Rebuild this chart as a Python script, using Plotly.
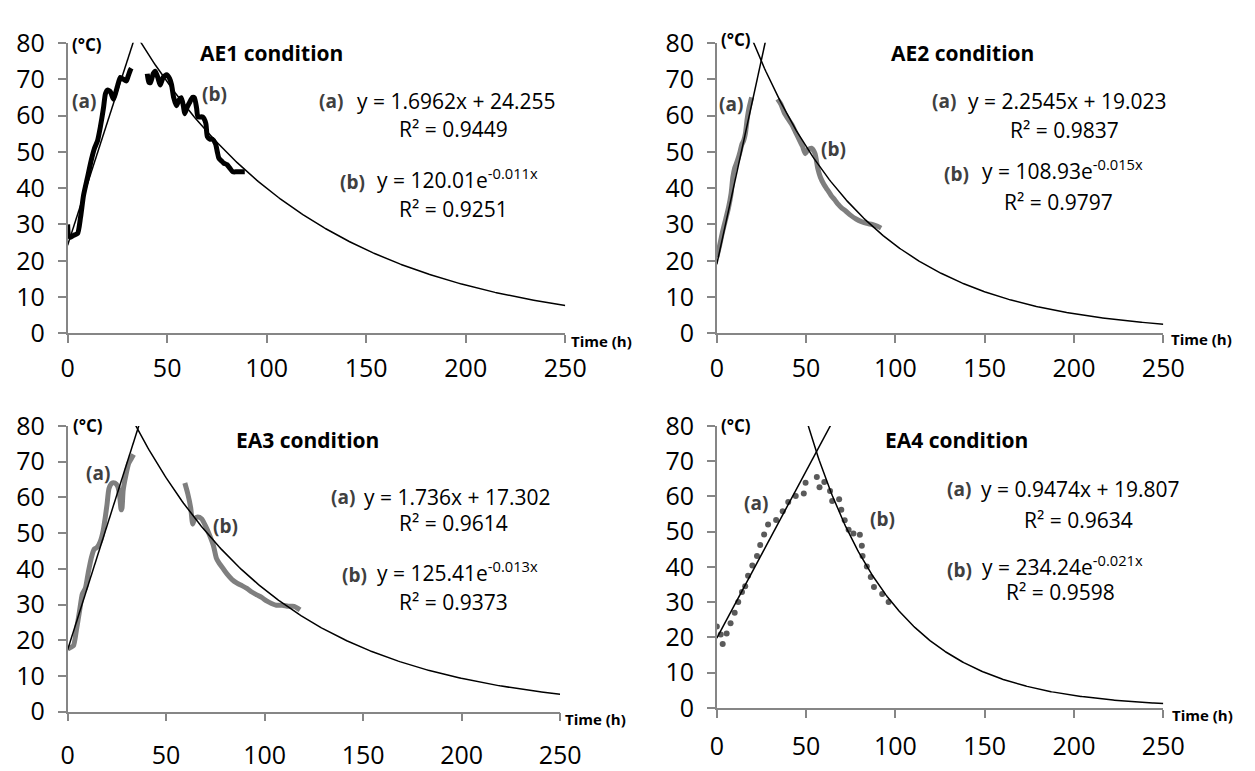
import numpy as np
import plotly.graph_objects as go

W, H = 1255, 771
FONT = "Open Sans"

# ---------------- data ----------------
# AE1 condition (black line)
ae1_a_x = [0, 0.5, 1.5, 3, 5, 6.5, 8, 10, 12, 13.5, 15, 16.5, 18, 19, 20, 21.5, 23, 24, 25, 26.5, 28, 29.5, 30.5, 31.5, 32]
ae1_a_y = [30, 27, 26.5, 27, 27.5, 32, 38, 43, 48, 51, 53, 57, 62, 66, 67, 66.5, 64.5, 66, 68, 70.5, 70, 69.5, 71, 72.5, 73]
ae1_b_x = [40, 40.8, 41.6, 43, 44, 45.3, 46.5, 48, 49.8, 51.2, 52.2, 53.3, 54.7, 56, 57.1, 58.2, 58.8, 60, 61.2,
           62.8, 63.7, 64.8, 65.5, 67.8, 69.4, 70.2, 71.5, 72.7, 74.3, 75.2, 76, 77.5, 78.4, 80, 81.5, 83, 85, 89]
ae1_b_y = [71.5, 69.2, 69, 71.5, 72.2, 70.5, 68.4, 70.5, 71.2, 70.2, 68.5, 64.9, 62.7, 64.3, 64.9, 62.5, 60.5, 62.2, 63.5,
           65, 64.9, 62, 59.6, 59.6, 57.9, 54.2, 53.5, 53.5, 52.2, 50, 48.2, 47.4, 46.9, 46.5, 45.5, 44.5, 44.5, 44.5]

# AE2 condition (grey line)
ae2_a_x = [0, 1.5, 3, 5, 6.5, 8, 9, 10, 11.5, 13, 14, 15, 16, 17, 18, 19, 19.5]
ae2_a_y = [21, 24, 27.5, 31.5, 34.5, 38.5, 43, 45.5, 47.5, 50, 52, 53, 55, 59, 62, 64, 65]
ae2_b_x = [34, 36, 38, 40, 42, 44, 46, 48, 49.5, 51, 53, 55, 56.5, 58, 60, 62, 64, 66, 68, 70, 72, 75, 78, 81, 84, 87, 90, 92]
ae2_b_y = [64.5, 63, 60.5, 59, 57.5, 55.5, 53.5, 51.5, 49.5, 50.5, 51, 49.5, 45.5, 43, 41, 39.5, 38, 36.8, 35.5, 34.5,
           33.8, 32.5, 31.5, 30.8, 30.3, 30, 29.5, 29]

# EA3 condition (grey line)
ea3_a_x = [0, 1.5, 3, 4.5, 6, 7.5, 9, 10.5, 12, 13.5, 15, 16.5, 18, 19, 20, 21, 22.5, 24, 25.5, 26.5, 27.2, 27.6, 28.2,
           29.5, 31, 32.5, 33.5]
ea3_a_y = [17.5, 18, 18.5, 23, 28, 33, 34.5, 39, 43, 45.5, 46, 47.5, 50.5, 54, 58, 62.5, 64, 64, 63, 60, 56.5, 57, 62,
           66, 69.5, 71, 72]
ea3_b_x = [59.5, 61, 62.5, 63.5, 64.5, 66, 68, 70, 72, 74, 75.5, 77, 79, 81, 83.5, 86, 88.5, 91, 93.5, 96, 98.5, 101,
           103.5, 106, 109, 112, 115, 118]
ea3_b_y = [64, 61, 57, 52.5, 54, 54.5, 54, 52, 49.5, 46.5, 43, 41.5, 40, 38.5, 37, 36, 35.3, 34.5, 33.5, 32.7, 32, 31,
           30.3, 29.8, 29.8, 29.5, 29.5, 28.5]

# EA4 condition (grey dots)
ea4_a_x = [0, 2.2, 3.3, 5.5, 7.7, 10, 12, 14.1, 15.9, 17.5, 19.9, 22.5, 24.3, 26.5, 28.7, 33.2, 36.9, 40, 44.2, 48.7, 49.7]
ea4_a_y = [23.1, 20.8, 18.1, 21.1, 24, 27, 30, 32.9, 34.5, 37.5, 40.4, 43.1, 46.2, 49.2, 52, 53.3, 55.8, 58.4, 60.1, 60.8, 63.9]
ea4_b_x = [56, 57.5, 60.2, 63.4, 64.6, 68.5, 69.7, 71.6, 73.8, 76.5, 80.1, 81.2, 81.6, 84, 86.2, 88, 92.6, 96.2]
ea4_b_y = [65.5, 62.6, 64.1, 61.5, 58.7, 59.2, 56.2, 53.2, 50.5, 49.5, 49.1, 46, 43.1, 40.1, 37.1, 34.3, 32.3, 30]

# Trend-line coefficients (from the equations printed on the chart)
conditions = ["AE1 condition", "AE2 condition", "EA3 condition", "EA4 condition"]
lin_slope = [1.6962, 2.2545, 1.736, 0.9474]
lin_icpt = [24.255, 19.023, 17.302, 19.807]
exp_coef = [120.01, 108.93, 125.41, 234.24]
exp_rate = [-0.011, -0.015, -0.013, -0.021]
r2_a = ["0.9449", "0.9837", "0.9614", "0.9634"]
r2_b = ["0.9251", "0.9797", "0.9373", "0.9598"]

x_ticks = [0, 50, 100, 150, 200, 250]
y_ticks = [0, 10, 20, 30, 40, 50, 60, 70, 80]

# ---------------- layout geometry ----------------
# plot areas in pixels: (left, right, top, bottom)
areas = [(62, 571, 26, 330), (726, 1182.7, 26, 330), (62, 565.7, 426.7, 725.7), (726, 1182.7, 426.7, 721.7)]
x_standoff = [4, 4, 13, 7]

fig = go.Figure()

BLACK = "#000000"
GREY = "#7f7f7f"
DOT = "#5a5a5a"
AXIS = "#868686"

data = [
    (ae1_a_x, ae1_a_y, ae1_b_x, ae1_b_y, "line", BLACK),
    (ae2_a_x, ae2_a_y, ae2_b_x, ae2_b_y, "line", GREY),
    (ea3_a_x, ea3_a_y, ea3_b_x, ea3_b_y, "line", GREY),
    (ea4_a_x, ea4_a_y, ea4_b_x, ea4_b_y, "dots", DOT),
]

for i in range(4):
    xa = "x" if i == 0 else f"x{i+1}"
    ya = "y" if i == 0 else f"y{i+1}"
    ax_, ay_, bx_, by_, kind, col = data[i]
    for xs, ys in ((ax_, ay_), (bx_, by_)):
        if kind == "line":
            fig.add_trace(go.Scatter(x=xs, y=ys, mode="lines",
                                     line=dict(color=col, width=5, shape="spline", smoothing=0.6),
                                     xaxis=xa, yaxis=ya, showlegend=False, hoverinfo="skip"))
        else:
            fig.add_trace(go.Scatter(x=xs, y=ys, mode="markers", marker=dict(color=col, size=6),
                                     xaxis=xa, yaxis=ya, showlegend=False, hoverinfo="skip"))
    # linear trend line (a)
    m, b = lin_slope[i], lin_icpt[i]
    x_end = (82 - b) / m
    xl = np.linspace(0, x_end, 50)
    fig.add_trace(go.Scatter(x=xl, y=m * xl + b, mode="lines", line=dict(color="black", width=1.5),
                             xaxis=xa, yaxis=ya, showlegend=False, hoverinfo="skip"))
    # exponential trend line (b)
    A, k = exp_coef[i], exp_rate[i]
    x_start = np.log(82 / A) / k
    xe = np.linspace(x_start, 250, 300)
    fig.add_trace(go.Scatter(x=xe, y=A * np.exp(k * xe), mode="lines", line=dict(color="black", width=1.5),
                             xaxis=xa, yaxis=ya, showlegend=False, hoverinfo="skip"))

layout = dict(width=W, height=H, margin=dict(l=0, r=0, t=0, b=0), paper_bgcolor="white", plot_bgcolor="white",
              showlegend=False)

for i, (l, r, t, btm) in enumerate(areas):
    xk = "xaxis" if i == 0 else f"xaxis{i+1}"
    yk = "yaxis" if i == 0 else f"yaxis{i+1}"
    xa = "x" if i == 0 else f"x{i+1}"
    ya = "y" if i == 0 else f"y{i+1}"
    layout[xk] = dict(domain=[l / W, r / W], anchor=ya, range=[0, 250], tickvals=x_ticks, showgrid=False,
                      zeroline=False, showline=True, linecolor=AXIS, linewidth=1.5, ticks="outside", ticklen=8,
                      tickwidth=1.5, tickcolor=AXIS, tickfont=dict(family=FONT, size=25, color="black"),
                      ticklabelstandoff=x_standoff[i])
    layout[yk] = dict(domain=[1 - btm / H, 1 - t / H], anchor=xa, range=[0, 80], tickvals=y_ticks, showgrid=False,
                      zeroline=False, showline=True, linecolor=AXIS, linewidth=1.5, ticks="outside", ticklen=8,
                      tickwidth=1.5, tickcolor=AXIS, tickfont=dict(family=FONT, size=25, color="black"),
                      ticklabelstandoff=8)

fig.update_layout(**layout)


def ann(text, px, py, size, xanchor="left", color="black"):
    fig.add_annotation(text=text, x=px / W, y=1 - py / H, xref="paper", yref="paper", xanchor=xanchor,
                       yanchor="middle", showarrow=False, font=dict(family=FONT, size=size, color=color))


LBL = "#404040"
# per panel text positions (pixels)
title_pos = [(271, 37), (977.5, 37), (307.5, 441), (971.5, 441)]
degc_pos = [(64, 28), (728, 23), (65, 426), (728, 426)]
time_pos = [(575, 338), (1189, 336), (569, 733), (1190, 729)]
lab_a_pos = [(64, 87), (726, 90), (79, 476), (752, 507)]
lab_b_pos = [(197, 80), (831, 137), (209, 531), (881, 524)]
eqa_lab = [(317, 87), (944, 87), (329, 501), (959, 493)]
eqa_txt = [(356, 87), (981, 87), (363, 501), (994, 493)]
r2a_pos = [(457, 116), (1082, 117), (457, 528), (1096, 525)]
eqb_lab = [(339, 172), (956, 163), (341, 583), (959, 577)]
eqb_txt = [(376, 172), (995, 163), (376, 583), (995, 577)]
r2b_pos = [(457, 200), (1076, 192), (457, 611), (1078, 601)]

for i in range(4):
    ann(f"<b>{conditions[i]}</b>", *title_pos[i], 21, xanchor="center")
    ann("<b>(°C)</b>", *degc_pos[i], 17)
    ann("<b>Time (h)</b>", *time_pos[i], 15)
    ann("<b>(a)</b>", *lab_a_pos[i], 19, color=LBL)
    ann("<b>(b)</b>", *lab_b_pos[i], 19, color=LBL)
    ann("<b>(a)</b>", *eqa_lab[i], 19, color=LBL)
    ann(f"y = {lin_slope[i]}x + {lin_icpt[i]}", *eqa_txt[i], 21)
    ann(f"R² = {r2_a[i]}", *r2a_pos[i], 21, xanchor="center")
    ann("<b>(b)</b>", *eqb_lab[i], 19, color=LBL)
    ann(f"y = {exp_coef[i]}e<sup>{exp_rate[i]}x</sup>", eqb_txt[i][0], eqb_txt[i][1] - 4, 21)
    ann(f"R² = {r2_b[i]}", *r2b_pos[i], 21, xanchor="center")

fig.write_html("out.html")
